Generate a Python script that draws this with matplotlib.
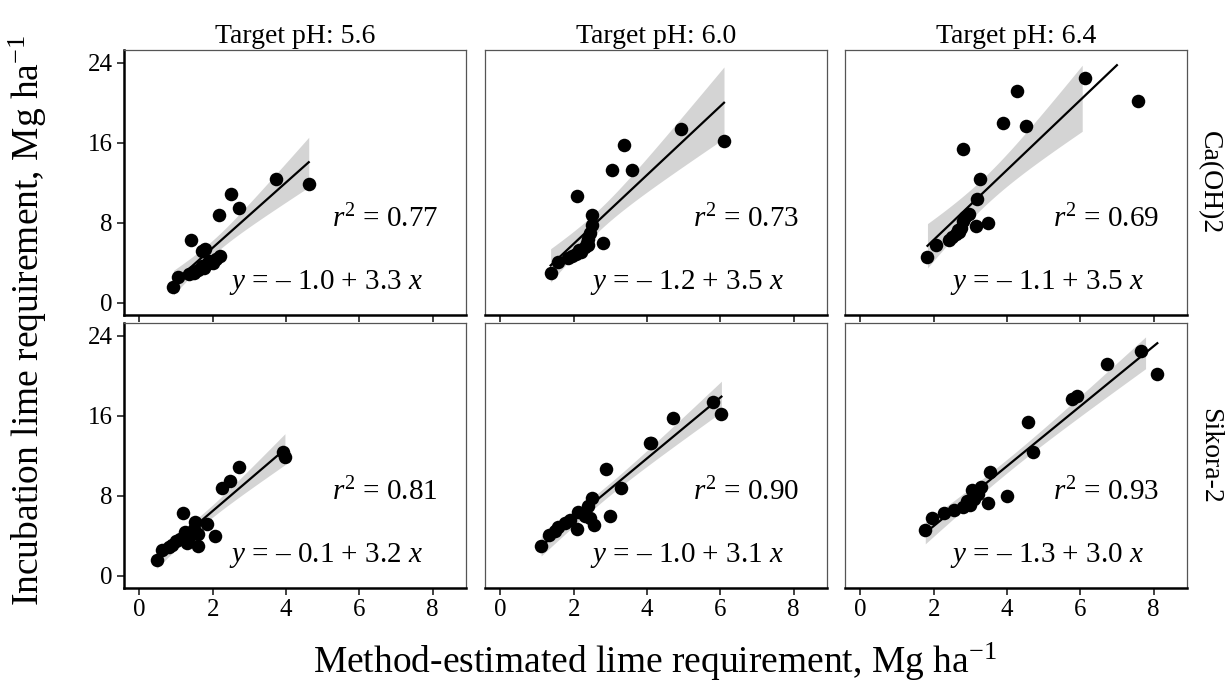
import numpy as np
import matplotlib
matplotlib.use("Agg")
import matplotlib.pyplot as plt

plt.rcParams['font.family'] = ['Liberation Serif', 'DejaVu Serif']
plt.rcParams['mathtext.fontset'] = 'custom'
plt.rcParams['mathtext.rm'] = 'Liberation Serif'
plt.rcParams['mathtext.it'] = 'Liberation Serif:italic'

ph_targets = ["5.6", "6.0", "6.4"]
methods = ["Ca(OH)2", "Sikora-2"]

# incubation lime requirement (y), shared by both methods for a given target pH
y_56 = [1.6, 2.6, 2.9, 3.0, 3.1, 3.3, 3.5, 3.7, 3.9, 4.0, 4.2, 4.4, 4.7, 5.2,
        5.4, 6.3, 8.8, 9.5, 10.9, 12.4, 11.9]
y_60 = [3.0, 4.1, 4.5, 4.7, 4.9, 5.1, 5.3, 5.6, 5.8, 6.0, 6.0, 6.4, 7.0, 7.8,
        8.75, 10.7, 13.3, 13.3, 15.8, 17.4, 16.2]
y_64 = [4.6, 5.8, 6.3, 6.6, 6.9, 7.1, 7.3, 7.5, 7.7, 8.0, 8.2, 8.6, 8.9, 10.4,
        12.4, 15.4, 17.7, 18.0, 20.2, 21.2, 22.5]

# method-estimated lime requirement (x)
x_caoh_56 = [0.93, 1.06, 1.35, 1.5, 1.45, 1.6, 1.75, 1.7, 1.85, 2.0, 1.9, 2.1,
             2.2, 1.7, 1.79, 1.40, 2.17, 2.72, 2.49, 3.74, 4.62]
x_caoh_60 = [1.37, 1.56, 1.85, 1.95, 2.05, 2.2, 2.15, 2.3, 2.4, 2.8, 2.35, 2.4,
             2.45, 2.5, 2.5, 2.09, 3.04, 3.6, 3.36, 4.92, 6.10]
x_caoh_64 = [1.83, 2.07, 2.43, 2.5, 2.6, 2.7, 2.65, 2.75, 3.15, 3.47, 2.8, 2.85,
             2.95, 3.18, 3.27, 2.81, 4.51, 3.88, 7.58, 4.28, 6.14]
x_sik_56 = [0.47, 0.61, 0.8, 1.6, 0.9, 1.3, 1.0, 1.1, 1.35, 2.06, 1.6, 1.25,
            1.5, 1.85, 1.52, 1.20, 2.26, 2.47, 2.71, 3.92, 3.97]
x_sik_60 = [1.11, 1.32, 1.5, 2.09, 1.57, 2.56, 1.75, 1.90, 2.45, 2.99, 2.3, 2.13,
            2.4, 2.49, 3.28, 2.88, 4.08, 4.1, 4.72, 5.80, 6.03]
x_sik_64 = [1.77, 1.95, 2.27, 2.54, 2.8, 3.0, 3.49, 2.9, 3.1, 3.99, 3.2, 3.05,
            3.3, 3.54, 4.70, 4.58, 5.76, 5.90, 8.1, 6.74, 7.66]

r2_labels = [["0.77", "0.73", "0.69"], ["0.81", "0.90", "0.93"]]
eq_labels = [["\u2013 1.0 + 3.3", "\u2013 1.2 + 3.5", "\u2013 1.1 + 3.5"],
             ["\u2013 0.1 + 3.2", "\u2013 1.0 + 3.1", "\u2013 1.3 + 3.0"]]

y_cols = [y_56, y_60, y_64]
x_rows = [[x_caoh_56, x_caoh_60, x_caoh_64], [x_sik_56, x_sik_60, x_sik_64]]

T95 = 2.093  # t quantile, 19 df
Y_LIM = (0, 24)  # scale limits: fit values outside are dropped

fig = plt.figure(figsize=(12.27, 6.92), dpi=100)

lefts = [124, 485, 845]
width = 342
tops = [50, 323]
height = 265
W, H = 1227, 692

for r in range(2):
    for c in range(3):
        ax = fig.add_axes([lefts[c] / W, 1 - (tops[r] + height) / H, width / W, height / H])
        x = np.array(x_rows[r][c])
        y = np.array(y_cols[c])

        # linear fit with 95% confidence band
        b, a = np.polyfit(x, y, 1)
        n = len(x)
        resid = y - (a + b * x)
        s = np.sqrt(np.sum(resid ** 2) / (n - 2))
        xs = np.linspace(x.min(), x.max(), 80)
        sxx = np.sum((x - x.mean()) ** 2)
        se = s * np.sqrt(1 / n + (xs - x.mean()) ** 2 / sxx)
        fit = a + b * xs
        lo, hi = fit - T95 * se, fit + T95 * se
        band_ok = (lo >= Y_LIM[0]) & (hi <= Y_LIM[1])
        line_ok = (fit >= Y_LIM[0]) & (fit <= Y_LIM[1])
        ax.fill_between(xs, lo, hi, where=band_ok, color='#d4d4d4', lw=0, zorder=1)
        ax.plot(xs[line_ok], fit[line_ok], color='black', lw=1.6, zorder=2)
        ax.scatter(x, y, s=95, color='black', lw=0, zorder=3)

        ax.text(6.7, 8.4, r"$r^2$ = " + r2_labels[r][c], fontsize=21,
                ha='center', va='center')
        ax.text(5.1, 2.0, r"$y$ = " + eq_labels[r][c] + r" $x$", fontsize=21,
                ha='center', va='center')

        ax.set_xlim(-0.42, 8.91)
        ax.set_ylim(-1.25, 25.3)
        ax.set_xticks([0, 2, 4, 6, 8])
        ax.set_yticks([0, 8, 16, 24])
        ax.tick_params(length=5, width=1.3, color='#333333', labelsize=18, pad=3)
        if r == 0:
            ax.tick_params(labelbottom=False)
            ax.set_title("Target pH: " + ph_targets[c], fontsize=20, pad=5)
        if c > 0:
            ax.tick_params(left=False, labelleft=False)
        if c == 2:
            ax.text(1.065, 0.5, methods[r], transform=ax.transAxes, rotation=270,
                    fontsize=20, ha='center', va='center')

        for side in ['top', 'right', 'left']:
            ax.spines[side].set_color('#555555')
            ax.spines[side].set_linewidth(0.9)
        ax.spines['bottom'].set_color('black')
        ax.spines['bottom'].set_linewidth(1.8)
        if c == 0:
            ax.spines['left'].set_color('black')
            ax.spines['left'].set_linewidth(1.8)

fig.text(655 / W, 1 - 662 / H, r"Method-estimated lime requirement, Mg ha$^{-1}$",
         fontsize=27, ha='center', va='center')
fig.text(28 / W, 1 - 320 / H, r"Incubation lime requirement, Mg ha$^{-1}$",
         fontsize=27, ha='center', va='center', rotation=90)

fig.savefig("out.png", dpi=100)
